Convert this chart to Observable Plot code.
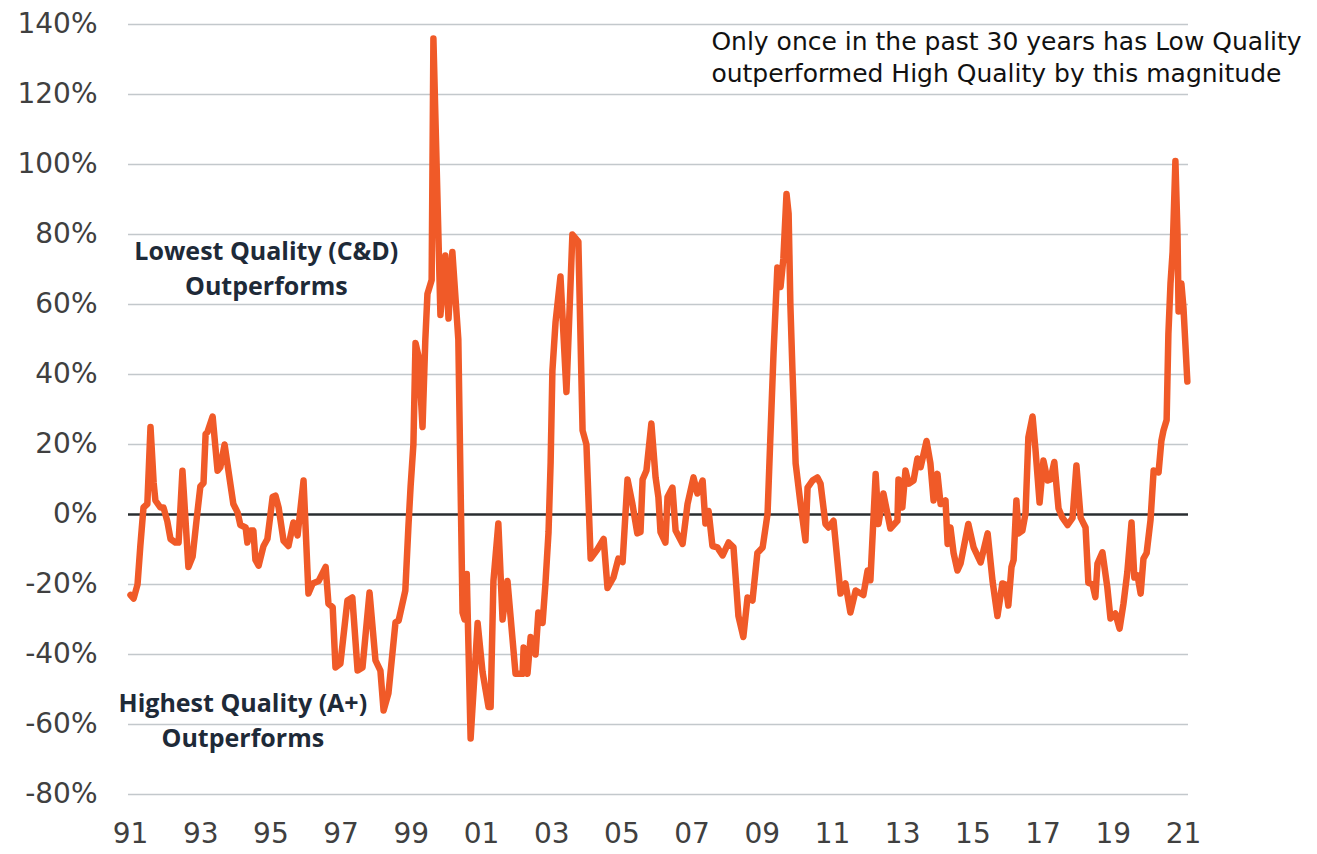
<!DOCTYPE html>
<html>
<head>
<meta charset="utf-8">
<script src="https://cdn.jsdelivr.net/npm/d3@7"></script>
<script src="https://cdn.jsdelivr.net/npm/@observablehq/plot@0.6"></script>
<style>
  html, body { margin: 0; padding: 0; background: #ffffff; }
  #chart svg { display: block; }
</style>
</head>
<body>
<div id="chart"></div>
<script>
// Time (decimal year) and spread (%) of Low Quality (C&D) vs High Quality (A+) relative performance
const years = [
  1991.00,1991.09,1991.20,1991.28,1991.37,1991.48,1991.57,1991.66,1991.71,1991.85,1991.94,
  1992.05,1992.14,1992.28,1992.37,1992.48,1992.65,1992.77,1992.91,1992.99,
  1993.08,1993.14,1993.19,1993.34,1993.48,1993.56,1993.68,1993.79,1993.93,
  1994.05,1994.13,1994.28,1994.33,1994.42,1994.50,1994.56,1994.65,1994.79,1994.90,
  1995.05,1995.13,1995.22,1995.36,1995.50,1995.64,1995.76,1995.93,
  1996.07,1996.19,1996.36,1996.56,1996.64,1996.76,1996.84,1996.98,
  1997.18,1997.32,1997.47,1997.61,1997.81,1997.98,
  1998.12,1998.21,1998.35,1998.55,1998.64,1998.83,1998.92,1998.98,
  1999.06,1999.12,1999.21,1999.32,1999.40,1999.46,1999.58,1999.63,1999.83,1999.97,
  2000.06,2000.17,2000.34,2000.46,2000.52,2000.58,2000.69,2000.89,
  2001.03,2001.20,2001.26,2001.34,2001.48,2001.60,2001.74,2001.97,
  2002.17,2002.20,2002.31,2002.40,2002.54,2002.62,2002.74,2002.82,2002.91,2002.97,
  2003.02,2003.11,2003.25,2003.42,2003.59,2003.76,2003.88,2003.99,
  2004.11,2004.30,2004.48,2004.59,2004.76,2004.90,
  2005.02,2005.16,2005.30,2005.44,2005.53,2005.59,2005.70,2005.84,2005.96,
  2006.04,2006.10,2006.24,2006.30,2006.44,2006.53,2006.73,2006.87,
  2007.04,2007.15,2007.30,2007.38,2007.47,2007.58,2007.72,2007.87,
  2008.04,2008.18,2008.32,2008.46,2008.58,2008.72,2008.86,
  2009.01,2009.15,2009.23,2009.32,2009.43,2009.52,2009.60,2009.69,2009.75,2009.80,2009.86,2009.95,
  2010.09,2010.23,2010.29,2010.43,2010.57,2010.66,2010.80,2010.89,
  2011.03,2011.23,2011.37,2011.51,2011.66,2011.88,
  2012.00,2012.08,2012.23,2012.31,2012.45,2012.65,2012.85,2012.88,2012.99,
  2013.08,2013.17,2013.31,2013.42,2013.51,2013.68,2013.79,2013.88,2013.99,
  2014.08,2014.22,2014.28,2014.36,2014.45,2014.56,2014.65,2014.87,
  2015.02,2015.22,2015.42,2015.56,2015.70,2015.84,2015.93,
  2016.01,2016.10,2016.16,2016.24,2016.30,2016.41,2016.50,2016.58,2016.70,2016.78,2016.90,
  2017.01,2017.13,2017.21,2017.32,2017.44,2017.55,2017.70,2017.84,2017.95,
  2018.07,2018.21,2018.29,2018.41,2018.49,2018.55,2018.69,2018.83,2018.92,
  2019.06,2019.18,2019.29,2019.40,2019.52,2019.60,2019.69,2019.78,2019.86,2019.95,
  2020.06,2020.15,2020.29,2020.37,2020.43,2020.52,2020.57,2020.63,2020.69,2020.77,2020.83,2020.86,2020.94,
  2021.00,2021.11
];
const spread = [
  -23,-24,-20,-9,2,3,25,9,4,2,2,
  -2,-7,-8,-8,12.5,-15,-12,1,8,
  9,23,23.5,28,12.5,13.5,20,12.5,3,
  0.6,-3,-3.7,-8,-4.6,-4.6,-13,-14.6,-9,-7,
  5,5.4,2,-7.5,-9,-2.3,-6,9.7,
  -22.6,-19.7,-19,-15,-25.5,-26.5,-43.7,-42.6,
  -24.6,-23.7,-44.6,-43.7,-22.3,-41.7,
  -44.6,-56,-51,-30.8,-30.3,-21.7,-3,8,
  20,49,45,25,50,63,67,136,57,74,
  56,75,50,-28,-30,-17,-64,-31,
  -45,-55,-55,-19,-2.6,-30,-19,-45.5,
  -45.5,-38,-45.5,-35,-40,-28,-31,-20,-5,15,
  41,55,68,35,80,78,24,20,
  -12.6,-10,-7,-21,-18,-12.6,
  -13.6,10,3,-5.4,-5,10,12.6,26,10.6,
  5,-5,-8,5,7.7,-4.6,-8.4,3,
  10.6,6,9.7,-2.6,1,-9,-9.4,-11.7,
  -8,-9.4,-29,-35,-23.7,-24.6,-11,
  -9.4,0.2,22,46,70.6,65,73,91.6,86,60,41,14.6,
  3,-7.4,7.7,9.7,10.6,8.8,-2.7,-3.7,
  -1.8,-22.6,-19.7,-28,-21.7,-23,
  -16,-18.8,11.6,-2.7,6,-4,-1.8,10,2,
  12.6,8.8,9.7,16,13.5,21,14.6,4,11.6,
  3,4,-8.4,-3.7,-11,-16,-14,-2.7,
  -9.4,-13.7,-5.4,-19,-29,-19.7,-20,
  -26,-15,-13,4,-5.4,-4.6,0.3,22,28,19,3.4,
  15.4,9.7,10,15,1.7,-0.9,-3,-1,14,
  -0.9,-3.7,-19.5,-20,-23.6,-14,-10.8,-20.8,-29.7,
  -28.3,-32.6,-25.5,-16.5,-2.3,-18,-17.4,-22.6,-12.6,-11,
  -1.7,12.6,12,21,24,27,51.6,66,75,101,80,58,66,
  59,38
];
const xTicks = [1991,1993,1995,1997,1999,2001,2003,2005,2007,2009,2011,2013,2015,2017,2019,2021];
const xTickLabels = ["91","93","95","97","99","01","03","05","07","09","11","13","15","17","19","21"];
const yTicks = [-80,-60,-40,-20,0,20,40,60,80,100,120,140];

const noteLines = ["Only once in the past 30 years has Low Quality", "outperformed High Quality by this magnitude"];
const topLabel = ["Lowest Quality (C&D)", "Outperforms"];
const bottomLabel = ["Highest Quality (A+)", "Outperforms"];

const data = years.map((t, i) => ({t, v: spread[i]}));
const labelOf = new Map(xTicks.map((t, i) => [t, xTickLabels[i]]));

const chart = Plot.plot({
  width: 1317,
  height: 854,
  marginLeft: 128,
  marginRight: 129,
  marginTop: 24,
  marginBottom: 60,
  style: {fontFamily: "DejaVu Sans, sans-serif", fontSize: "28px", color: "#404040", background: "#ffffff"},
  x: {domain: [1990.943, 2021.143], label: null},
  y: {domain: [-80, 140], label: null},
  marks: [
    Plot.ruleY(yTicks.filter(d => d !== 0), {stroke: "#c3c8cc", strokeWidth: 1.6}),
    Plot.ruleY([0], {stroke: "#2a2e31", strokeWidth: 2.6}),
    Plot.axisY({ticks: yTicks, tickSize: 0, tickPadding: 31, tickFormat: d => d + "%", fontSize: 28, label: null}),
    Plot.axisX({ticks: xTicks, tickSize: 0, tickPadding: 29, tickFormat: d => labelOf.get(d), fontSize: 28, label: null}),
    Plot.line(data, {x: "t", y: "v", stroke: "#f05a28", strokeWidth: 6.5, strokeLinejoin: "round", strokeLinecap: "round"}),
    Plot.text([{x: 1994.87, y: 75, s: topLabel[0]}, {x: 1994.87, y: 65, s: topLabel[1]}],
      {x: "x", y: "y", text: "s", fontFamily: "Open Sans, sans-serif", fontWeight: "bold", fontSize: 25, fill: "#1e2a38"}),
    Plot.text([{x: 1994.2, y: -54, s: bottomLabel[0]}, {x: 1994.2, y: -64, s: bottomLabel[1]}],
      {x: "x", y: "y", text: "s", fontFamily: "Open Sans, sans-serif", fontWeight: "bold", fontSize: 25, fill: "#1e2a38"}),
    Plot.text([{x: 2007.55, y: 134.9, s: noteLines[0]}, {x: 2007.55, y: 126.0, s: noteLines[1]}],
      {x: "x", y: "y", text: "s", textAnchor: "start", fontFamily: "DejaVu Sans, sans-serif", fontSize: 25, fill: "#111111"})
  ]
});
document.getElementById("chart").appendChild(chart);
</script>
</body>
</html>
